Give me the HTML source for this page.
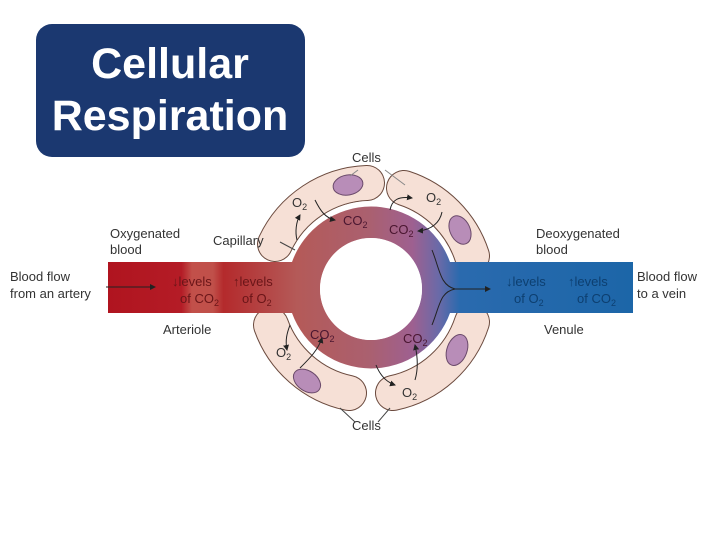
<!DOCTYPE html>
<html><head><meta charset="utf-8"><style>
html,body{margin:0;padding:0;background:#fff;width:720px;height:540px;overflow:hidden}
svg{display:block}
text{font-family:"Liberation Sans",sans-serif}
</style></head><body>
<svg width="720" height="540" viewBox="0 0 720 540" xmlns="http://www.w3.org/2000/svg">
<defs>
<linearGradient id="bg" gradientUnits="userSpaceOnUse" x1="108" y1="0" x2="633" y2="0">
<stop offset="0" stop-color="#b0141f"/>
<stop offset="0.14" stop-color="#b41c26"/>
<stop offset="0.16" stop-color="#c2504a"/>
<stop offset="0.2" stop-color="#c0504a"/>
<stop offset="0.22" stop-color="#b42a2c"/>
<stop offset="0.36" stop-color="#b45a58"/>
<stop offset="0.5" stop-color="#aa6070"/>
<stop offset="0.58" stop-color="#9e6090"/>
<stop offset="0.63" stop-color="#6a6aa8"/>
<stop offset="0.67" stop-color="#2a6aae"/>
<stop offset="1" stop-color="#1c66a8"/>
</linearGradient>
<marker id="ah" markerWidth="6" markerHeight="6" refX="5" refY="3" orient="auto"><path d="M0,0 L6,3 L0,6 z" fill="#222"/></marker>
</defs>

<rect x="36" y="24" width="269" height="133" rx="16" fill="#1b3870"/>
<text x="170" y="78" font-size="43" font-weight="bold" fill="#fff" text-anchor="middle">Cellular</text>
<text x="170" y="130" font-size="43" font-weight="bold" fill="#fff" text-anchor="middle">Respiration</text>

<!-- cells -->
<g fill="none" stroke-linecap="round">
<g stroke="#6b4a3e" stroke-width="36">
<path d="M275,244 A106,106 0 0 1 367,183"/>
<path d="M404,188 A106,106 0 0 1 472,256"/>
<path d="M472,322 A106,106 0 0 1 393,393"/>
<path d="M349,393 A106,106 0 0 1 271,325"/>
</g>
<g stroke="#f6e0d6" stroke-width="34">
<path d="M275,244 A106,106 0 0 1 367,183"/>
<path d="M404,188 A106,106 0 0 1 472,256"/>
<path d="M472,322 A106,106 0 0 1 393,393"/>
<path d="M349,393 A106,106 0 0 1 271,325"/>
</g>
</g>
<g fill="#b88db8" stroke="#6b4a6b" stroke-width="1">
<ellipse cx="348" cy="185" rx="15" ry="10" transform="rotate(-10 348 185)"/>
<ellipse cx="460" cy="230" rx="10" ry="15" transform="rotate(-25 460 230)"/>
<ellipse cx="457" cy="350" rx="10" ry="16" transform="rotate(20 457 350)"/>
<ellipse cx="307" cy="381" rx="15" ry="10" transform="rotate(35 307 381)"/>
</g>
<circle cx="371" cy="289" r="88" fill="#fff"/>

<!-- vessel -->
<path fill-rule="evenodd" fill="url(#bg)" d="M108,262 H292 A84,84 0 0 1 450,262 H633 V313 H450 A84,84 0 0 1 292,313 H108 Z M371,238 A51,51 0 1 0 371.01,238 Z"/>
<circle cx="371" cy="289" r="51" fill="#fff"/>

<!-- flow lines -->
<g stroke="#222" stroke-width="1" fill="none">
<line x1="106" y1="287" x2="155" y2="287" marker-end="url(#ah)"/>
<path d="M432,250 C440,270 440,285 455,289 L490,289" marker-end="url(#ah)"/>
<path d="M432,325 C440,305 440,292 455,289"/>
<line x1="280" y1="242" x2="295" y2="250" stroke="#444"/>
<line x1="358" y1="170" x2="350" y2="176" stroke="#888"/>
<line x1="385" y1="170" x2="405" y2="185" stroke="#888"/>
<line x1="340" y1="408" x2="355" y2="422" stroke="#444"/>
<line x1="390" y1="408" x2="378" y2="422" stroke="#444"/>
<path d="M315,200 C320,210 325,218 335,220" marker-end="url(#ah)"/>
<path d="M297,240 C295,232 296,222 300,215" marker-end="url(#ah)"/>
<path d="M390,210 C392,200 398,196 412,198" marker-end="url(#ah)"/>
<path d="M442,212 C440,222 432,230 418,231" marker-end="url(#ah)"/>
<path d="M290,325 C287,333 285,340 287,350" marker-end="url(#ah)"/>
<path d="M300,368 C310,358 318,350 322,338" marker-end="url(#ah)"/>
<path d="M376,365 C380,375 386,382 395,385" marker-end="url(#ah)"/>
<path d="M415,380 C418,370 418,358 415,345" marker-end="url(#ah)"/>
</g>

<g font-size="13" fill="#333">
<text x="10" y="281">Blood flow</text>
<text x="10" y="298">from an artery</text>
<text x="110" y="238">Oxygenated</text>
<text x="110" y="254">blood</text>
<text x="213" y="245">Capillary</text>
<text x="163" y="334">Arteriole</text>
<text x="536" y="238">Deoxygenated</text>
<text x="536" y="254">blood</text>
<text x="637" y="281">Blood flow</text>
<text x="637" y="298">to a vein</text>
<text x="544" y="334">Venule</text>
<text x="352" y="162">Cells</text>
<text x="352" y="430">Cells</text>
<text x="292" y="207">O<tspan font-size="9" dy="3">2</tspan></text>
<text x="426" y="202">O<tspan font-size="9" dy="3">2</tspan></text>
<text x="276" y="357">O<tspan font-size="9" dy="3">2</tspan></text>
<text x="402" y="397">O<tspan font-size="9" dy="3">2</tspan></text>
</g>
<g font-size="13" fill="#4a1630">
<text x="343" y="225">CO<tspan font-size="9" dy="3">2</tspan></text>
<text x="389" y="234">CO<tspan font-size="9" dy="3">2</tspan></text>
<text x="310" y="339">CO<tspan font-size="9" dy="3">2</tspan></text>
<text x="403" y="343">CO<tspan font-size="9" dy="3">2</tspan></text>
</g>
<g font-size="13" fill="#6a1518">
<text x="172" y="286">↓levels</text>
<text x="180" y="303">of CO<tspan font-size="9" dy="3">2</tspan></text>
<text x="233" y="286">↑levels</text>
<text x="242" y="303">of O<tspan font-size="9" dy="3">2</tspan></text>
</g>
<g font-size="13" fill="#0d3f70">
<text x="506" y="286">↓levels</text>
<text x="514" y="303">of O<tspan font-size="9" dy="3">2</tspan></text>
<text x="568" y="286">↑levels</text>
<text x="577" y="303">of CO<tspan font-size="9" dy="3">2</tspan></text>
</g>
</svg>
</body></html>
